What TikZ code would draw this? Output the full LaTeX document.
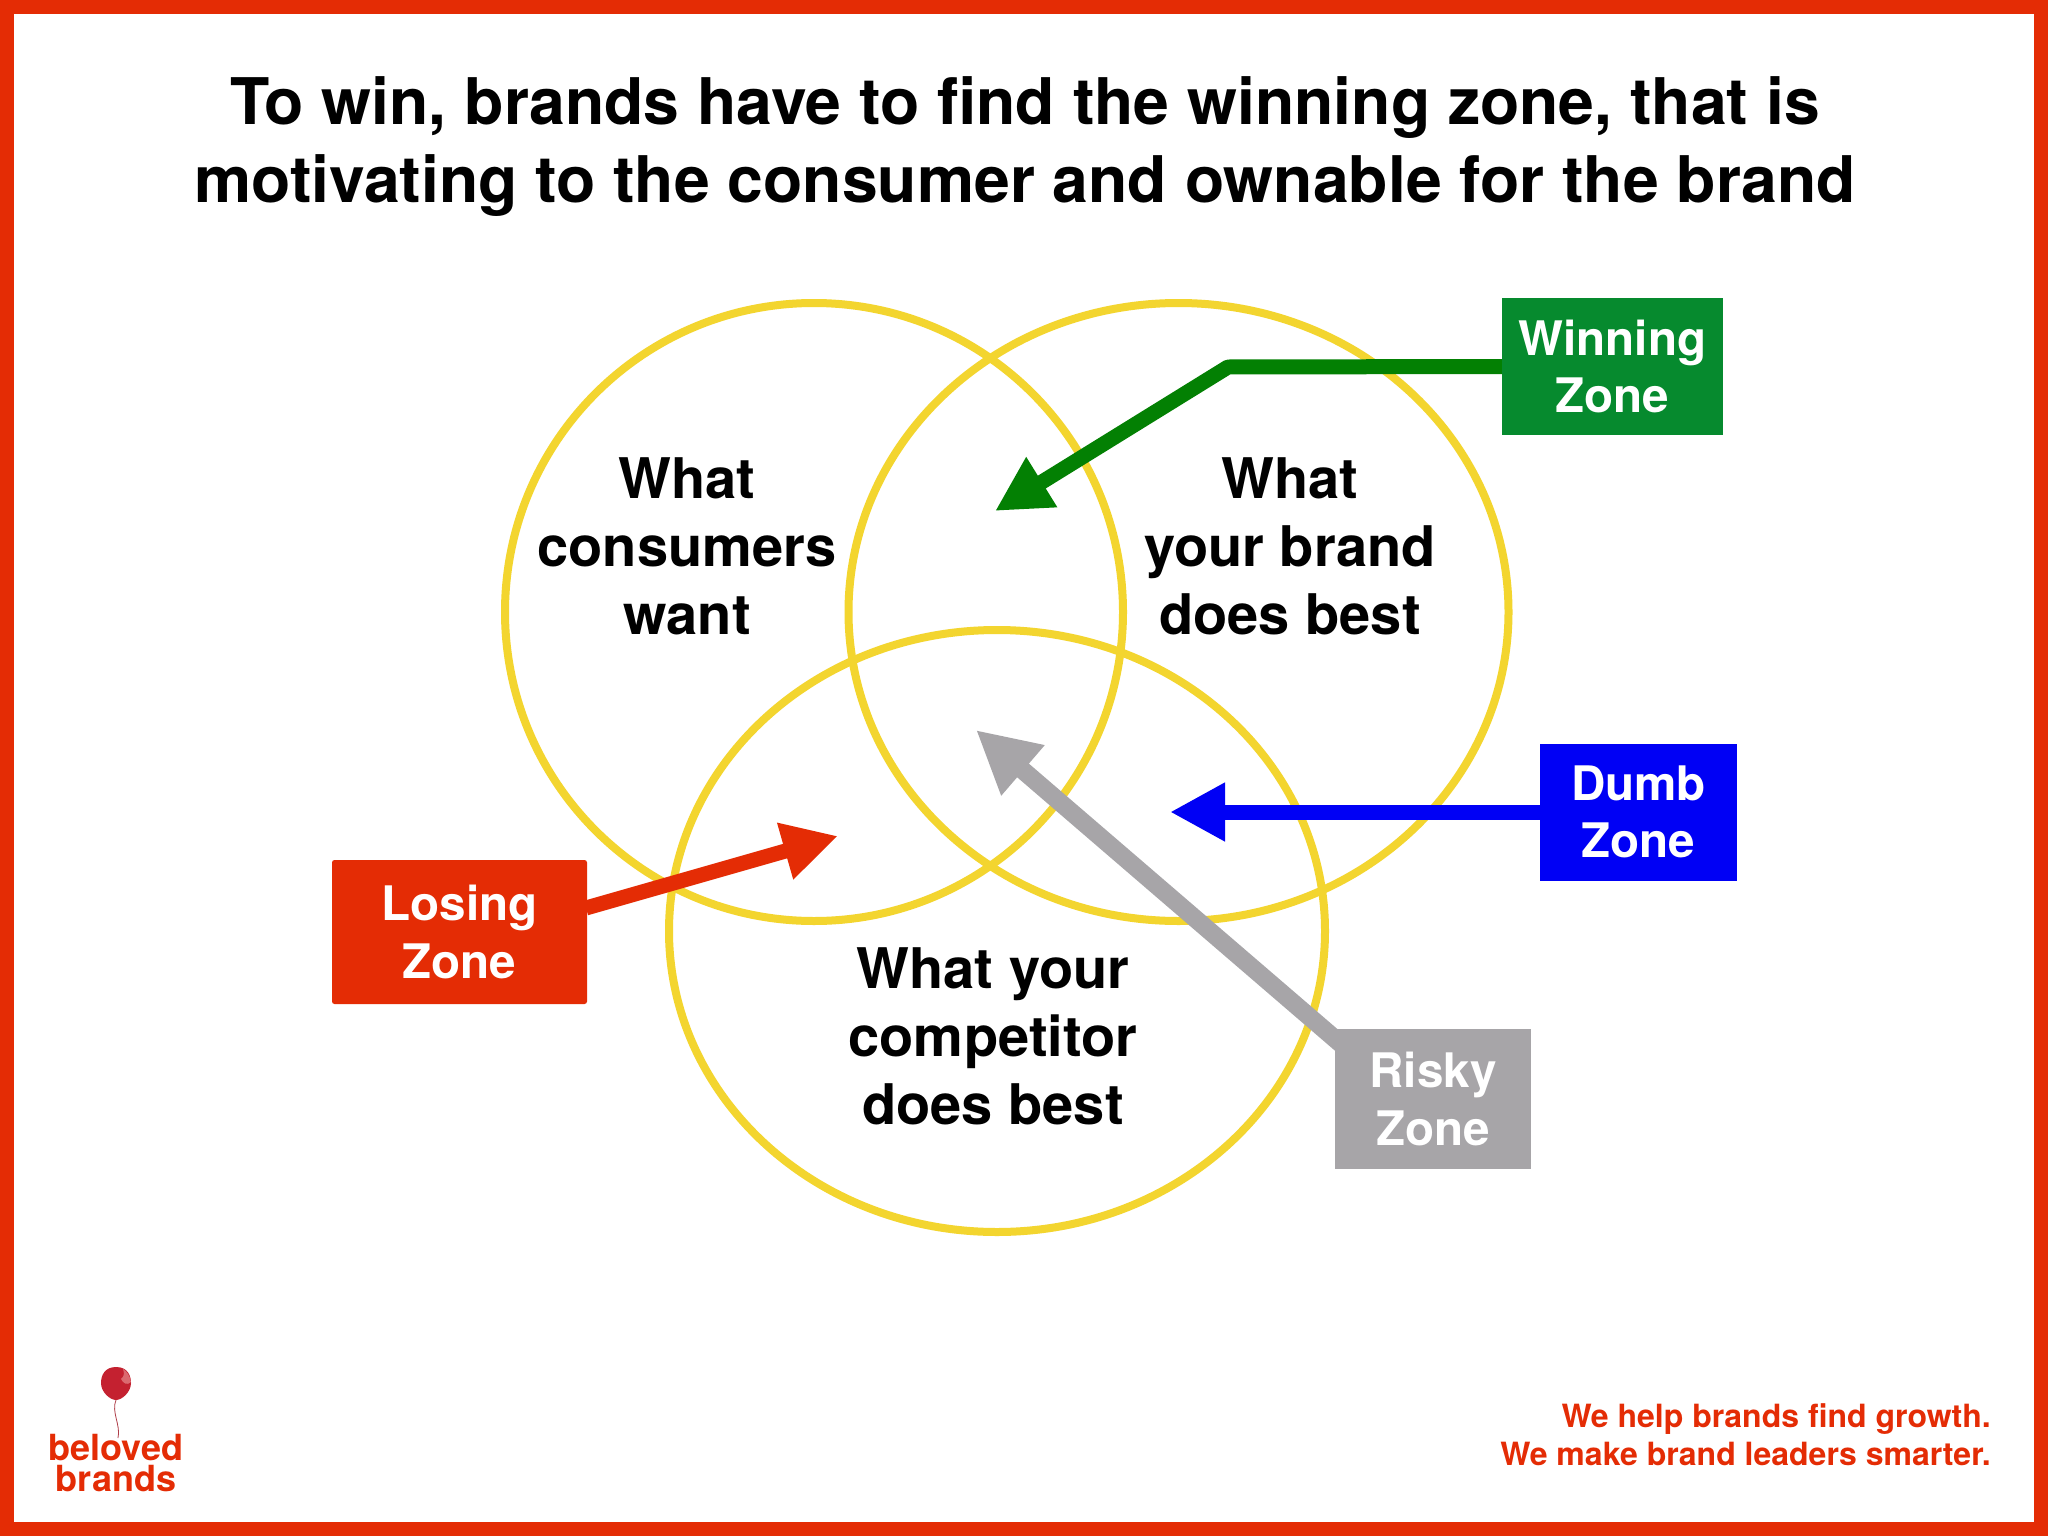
\documentclass[tikz,border=0pt]{standalone}
\usepackage{fontspec}
\usepackage{xcolor}
\setmainfont{TeX Gyre Heros}
\usetikzlibrary{arrows.meta,backgrounds}
\definecolor{framered}{HTML}{E42C05}
\definecolor{ringyellow}{HTML}{F3D52F}
\definecolor{boxgreen}{HTML}{068A2E}
\definecolor{arrowgreen}{HTML}{038003}
\definecolor{boxblue}{HTML}{0000F5}
\definecolor{boxgray}{HTML}{A7A5A8}
\definecolor{balloonred}{HTML}{C42130}
\definecolor{balloonlight}{HTML}{DB6A70}
\tikzset{
    ring/.style={draw=ringyellow, line width=8pt},
    circletext/.style={align=center, inner sep=0pt, font=\fontsize{56}{68}\selectfont\bfseries},
    zonebox/.style={minimum width=#1, align=center, inner sep=0pt, text=white, font=\fontsize{47.6}{57.5}\selectfont\bfseries},
    zonearrow/.style 2 args={line width=#1, -{Triangle[length=#2,width=#2]}}
}
\begin{document}
\begin{tikzpicture}[x=1pt, y=-1pt]
                    \useasboundingbox (0,0) rectangle (2048,1536);

                    \node[align=center, inner sep=0pt, font=\fontsize{64.3}{78}\selectfont\bfseries] (title) at (1025,147) {To win, brands have to find the winning zone, that is\\motivating to the consumer and ownable for the brand};

                    \node[circletext] (want) at (687,546) {What\\consumers\\want};
                    \node[circletext] (best) at (1290,546) {What\\your brand\\does best};
                    \node[circletext] (rival) at (993,1036) {What your\\competitor\\does best};

                    \node[zonebox=221pt, minimum height=137pt, fill=boxgreen] (winning) at (1612.5,366.5) {Winning\\Zone};
                    \node[zonebox=197pt, minimum height=137pt, fill=boxblue] (dumb) at (1638.5,812) {Dumb\\Zone};
                    \node[zonebox=255pt, minimum height=144pt, fill=framered, rounded corners=2.5pt] (losing) at (459.5,932) {Losing\\Zone};
                    \node[zonebox=196pt, minimum height=140pt, fill=boxgray] (risky) at (1433,1099) {Risky\\Zone};

                    \coordinate (bend) at (1228,367);
                    \coordinate (wintip) at (995,511);
                    \coordinate (dumbtip) at (1170,812);
                    \coordinate (losestart) at (586,908);
                    \coordinate (losetip) at (838,836);
                    \coordinate (risktip) at (976,730);
                    \coordinate (riskfoot) at (1341,1044);

                    \begin{scope}[on background layer]
                        \fill[framered] (0,0) rectangle (2048,1536);
                        \fill[white] (14,14) rectangle (2034,1522);

                        \draw[ring] (814,612) circle [x radius=309pt, y radius=309pt];
                        \draw[ring] (1178.5,612) circle [x radius=330pt, y radius=309pt];
                        \draw[ring] (997,931) circle [x radius=328pt, y radius=301pt];

                        \draw[zonearrow={15pt}{55pt}, arrowgreen, line join=bevel] (winning.west) -- (bend) -- (wintip);
                        \draw[zonearrow={15pt}{55pt}, boxblue] (dumb.west) -- (dumbtip);
                        \draw[zonearrow={15pt}{55pt}, framered] (losestart) -- (losetip);
                        \draw[zonearrow={18pt}{62pt}, boxgray] (riskfoot) -- (risktip);
                    \end{scope}

                    % balloon
                    \draw[line width=0.8pt, draw=balloonred!70!gray] (116,1400) .. controls (111,1412) and (121,1425) .. (118,1438);
                    \fill[balloonred] (116,1367) .. controls (128,1367) and (131,1376) .. (131,1383) .. controls (131,1392) and (122,1400) .. (116,1400) .. controls (110,1400) and (101,1392) .. (101,1383) .. controls (101,1375) and (105,1367) .. (116,1367);
                    \fill[balloonlight] (123,1369) .. controls (127,1371) and (130,1376) .. (131,1382) .. controls (127,1386) and (123,1383) .. (121,1379) .. controls (125,1376) and (124,1372) .. (123,1369);

                    \node[align=center, inner sep=0pt, text=framered, font=\fontsize{36}{31}\selectfont\bfseries] (logo) at (116,1463) {beloved\\brands};
                    \node[anchor=east, align=right, inner sep=0pt, text=framered, font=\fontsize{32}{38}\selectfont\bfseries] (slogan) at (1991,1435) {We help brands find growth.\\We make brand leaders smarter.};
                \end{tikzpicture}
\end{document}
